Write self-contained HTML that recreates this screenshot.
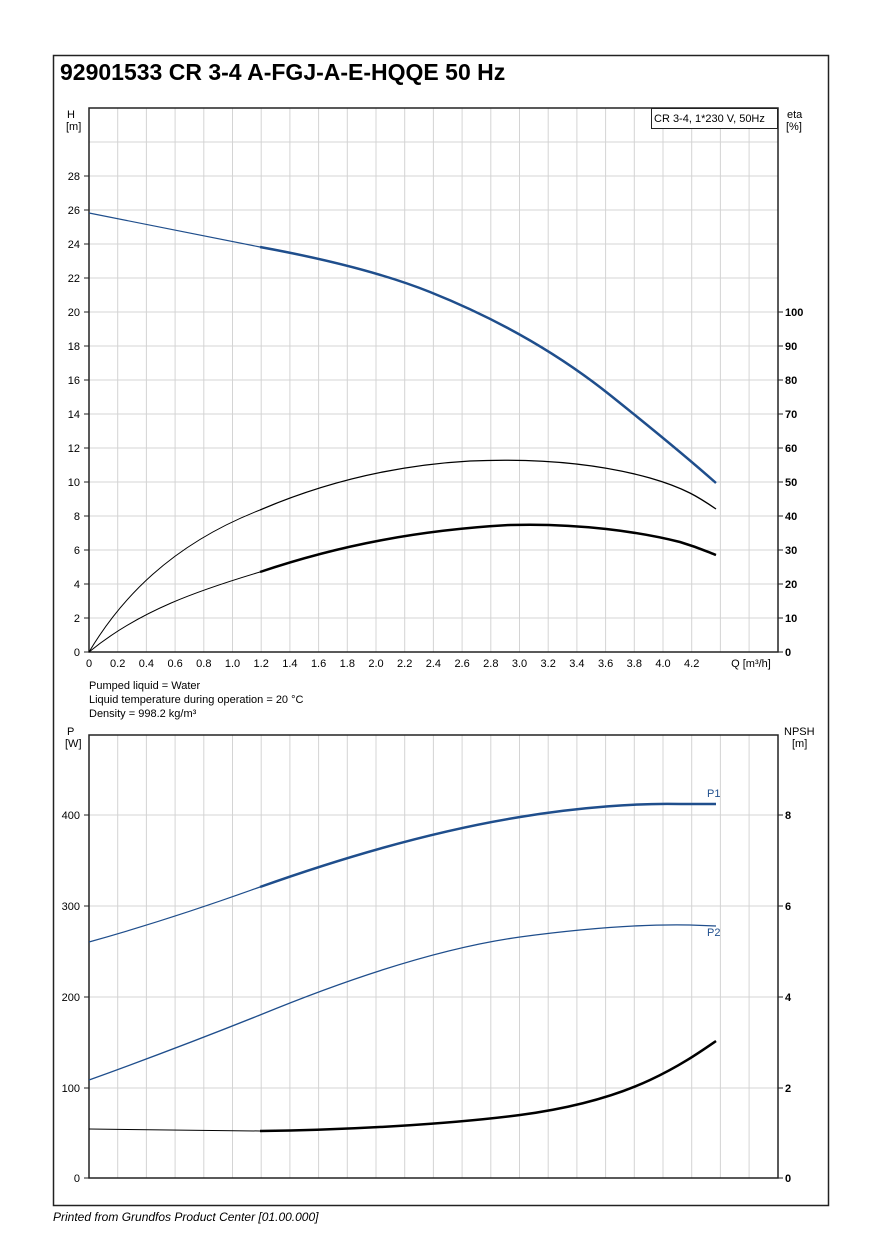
<!DOCTYPE html>
<html><head><meta charset="utf-8"><style>
html,body{margin:0;padding:0;background:#fff;}
svg{display:block;font-family:"Liberation Sans",Arial,sans-serif;}
</style></head><body>
<svg width="889" height="1258" viewBox="0 0 889 1258" xmlns="http://www.w3.org/2000/svg">
<rect x="0" y="0" width="889" height="1258" fill="#fff"/>
<rect x="53.5" y="55.5" width="775" height="1150" fill="none" stroke="#222" stroke-width="1.5"/>
<text x="60" y="80" font-size="23" font-weight="bold" fill="#000">92901533 CR 3-4 A-FGJ-A-E-HQQE 50 Hz</text>

<!-- upper grid -->
<g stroke="#d4d4d4" stroke-width="1">
<line x1="117.7" y1="108" x2="117.7" y2="652"/><line x1="146.4" y1="108" x2="146.4" y2="652"/><line x1="175.1" y1="108" x2="175.1" y2="652"/><line x1="203.8" y1="108" x2="203.8" y2="652"/><line x1="232.5" y1="108" x2="232.5" y2="652"/><line x1="261.2" y1="108" x2="261.2" y2="652"/><line x1="289.9" y1="108" x2="289.9" y2="652"/><line x1="318.6" y1="108" x2="318.6" y2="652"/><line x1="347.3" y1="108" x2="347.3" y2="652"/><line x1="376" y1="108" x2="376" y2="652"/><line x1="404.7" y1="108" x2="404.7" y2="652"/><line x1="433.4" y1="108" x2="433.4" y2="652"/><line x1="462.1" y1="108" x2="462.1" y2="652"/><line x1="490.8" y1="108" x2="490.8" y2="652"/><line x1="519.5" y1="108" x2="519.5" y2="652"/><line x1="548.2" y1="108" x2="548.2" y2="652"/><line x1="576.9" y1="108" x2="576.9" y2="652"/><line x1="605.6" y1="108" x2="605.6" y2="652"/><line x1="634.3" y1="108" x2="634.3" y2="652"/><line x1="663" y1="108" x2="663" y2="652"/><line x1="691.7" y1="108" x2="691.7" y2="652"/><line x1="720.4" y1="108" x2="720.4" y2="652"/><line x1="749.1" y1="108" x2="749.1" y2="652"/>
<line x1="89" y1="618" x2="778" y2="618"/><line x1="89" y1="584" x2="778" y2="584"/><line x1="89" y1="550" x2="778" y2="550"/><line x1="89" y1="516" x2="778" y2="516"/><line x1="89" y1="482" x2="778" y2="482"/><line x1="89" y1="448" x2="778" y2="448"/><line x1="89" y1="414" x2="778" y2="414"/><line x1="89" y1="380" x2="778" y2="380"/><line x1="89" y1="346" x2="778" y2="346"/><line x1="89" y1="312" x2="778" y2="312"/><line x1="89" y1="278" x2="778" y2="278"/><line x1="89" y1="244" x2="778" y2="244"/><line x1="89" y1="210" x2="778" y2="210"/><line x1="89" y1="176" x2="778" y2="176"/><line x1="89" y1="142" x2="778" y2="142"/>
</g>
<rect x="89" y="108" width="689" height="544" fill="none" stroke="#222" stroke-width="1.5"/>
<rect x="651.5" y="108.5" width="126" height="20" fill="#fff" stroke="#222" stroke-width="1"/>
<text x="654" y="122" font-size="11" fill="#000">CR 3-4, 1*230 V, 50Hz</text>

<g font-size="11" fill="#000" text-anchor="end">
<text x="80" y="656">0</text><text x="80" y="622">2</text><text x="80" y="588">4</text><text x="80" y="554">6</text><text x="80" y="520">8</text><text x="80" y="486">10</text><text x="80" y="452">12</text><text x="80" y="418">14</text><text x="80" y="384">16</text><text x="80" y="350">18</text><text x="80" y="316">20</text><text x="80" y="282">22</text><text x="80" y="248">24</text><text x="80" y="214">26</text><text x="80" y="180">28</text>
</g>
<g stroke="#222" stroke-width="1">
<line x1="84" y1="652" x2="89" y2="652"/><line x1="84" y1="618" x2="89" y2="618"/><line x1="84" y1="584" x2="89" y2="584"/><line x1="84" y1="550" x2="89" y2="550"/><line x1="84" y1="516" x2="89" y2="516"/><line x1="84" y1="482" x2="89" y2="482"/><line x1="84" y1="448" x2="89" y2="448"/><line x1="84" y1="414" x2="89" y2="414"/><line x1="84" y1="380" x2="89" y2="380"/><line x1="84" y1="346" x2="89" y2="346"/><line x1="84" y1="312" x2="89" y2="312"/><line x1="84" y1="278" x2="89" y2="278"/><line x1="84" y1="244" x2="89" y2="244"/><line x1="84" y1="210" x2="89" y2="210"/><line x1="84" y1="176" x2="89" y2="176"/>
<line x1="778" y1="652" x2="783" y2="652"/><line x1="778" y1="618" x2="783" y2="618"/><line x1="778" y1="584" x2="783" y2="584"/><line x1="778" y1="550" x2="783" y2="550"/><line x1="778" y1="516" x2="783" y2="516"/><line x1="778" y1="482" x2="783" y2="482"/><line x1="778" y1="448" x2="783" y2="448"/><line x1="778" y1="414" x2="783" y2="414"/><line x1="778" y1="380" x2="783" y2="380"/><line x1="778" y1="346" x2="783" y2="346"/><line x1="778" y1="312" x2="783" y2="312"/>
</g>
<g font-size="11" fill="#000" font-weight="bold">
<text x="785" y="656">0</text><text x="785" y="622">10</text><text x="785" y="588">20</text><text x="785" y="554">30</text><text x="785" y="520">40</text><text x="785" y="486">50</text><text x="785" y="452">60</text><text x="785" y="418">70</text><text x="785" y="384">80</text><text x="785" y="350">90</text><text x="785" y="316">100</text>
</g>
<g font-size="11" fill="#000">
<text x="787" y="118">eta</text><text x="786" y="130">[%]</text>
<text x="67" y="118">H</text><text x="66" y="130">[m]</text>
</g>
<g font-size="11" fill="#000" text-anchor="middle">
<text x="89" y="667">0</text><text x="117.7" y="667">0.2</text><text x="146.4" y="667">0.4</text><text x="175.1" y="667">0.6</text><text x="203.8" y="667">0.8</text><text x="232.5" y="667">1.0</text><text x="261.2" y="667">1.2</text><text x="289.9" y="667">1.4</text><text x="318.6" y="667">1.6</text><text x="347.3" y="667">1.8</text><text x="376" y="667">2.0</text><text x="404.7" y="667">2.2</text><text x="433.4" y="667">2.4</text><text x="462.1" y="667">2.6</text><text x="490.8" y="667">2.8</text><text x="519.5" y="667">3.0</text><text x="548.2" y="667">3.2</text><text x="576.9" y="667">3.4</text><text x="605.6" y="667">3.6</text><text x="634.3" y="667">3.8</text><text x="663" y="667">4.0</text><text x="691.7" y="667">4.2</text>
<text x="751" y="667">Q [m³/h]</text>
</g>

<!-- upper curves -->
<path d="M89,213 L260,247" fill="none" stroke="#1f4e8c" stroke-width="1.2"/>
<path d="M260,247 C320,258 380,272 430,292 C500,320 560,355 610,395 C660,435 690,460 716,483" fill="none" stroke="#1f4e8c" stroke-width="2.5"/>
<path d="M89,652 C120,600 170,545 260,510" fill="none" stroke="#000" stroke-width="1"/>
<path d="M260,510 C330,480 400,465 470,461 C540,458 600,464 650,478 C685,488 700,498 716,509" fill="none" stroke="#000" stroke-width="1.3"/>
<path d="M89,652 C140,610 200,590 260,572" fill="none" stroke="#000" stroke-width="1"/>
<path d="M260,572 C340,545 420,530 510,525 C580,523 640,532 680,542 C700,548 708,552 716,555" fill="none" stroke="#000" stroke-width="2.5"/>

<g font-size="11" fill="#000">
<text x="89" y="689">Pumped liquid = Water</text>
<text x="89" y="703">Liquid temperature during operation = 20 °C</text>
<text x="89" y="717">Density = 998.2 kg/m³</text>
</g>

<!-- lower grid -->
<g stroke="#d4d4d4" stroke-width="1">
<line x1="117.7" y1="735" x2="117.7" y2="1178"/><line x1="146.4" y1="735" x2="146.4" y2="1178"/><line x1="175.1" y1="735" x2="175.1" y2="1178"/><line x1="203.8" y1="735" x2="203.8" y2="1178"/><line x1="232.5" y1="735" x2="232.5" y2="1178"/><line x1="261.2" y1="735" x2="261.2" y2="1178"/><line x1="289.9" y1="735" x2="289.9" y2="1178"/><line x1="318.6" y1="735" x2="318.6" y2="1178"/><line x1="347.3" y1="735" x2="347.3" y2="1178"/><line x1="376" y1="735" x2="376" y2="1178"/><line x1="404.7" y1="735" x2="404.7" y2="1178"/><line x1="433.4" y1="735" x2="433.4" y2="1178"/><line x1="462.1" y1="735" x2="462.1" y2="1178"/><line x1="490.8" y1="735" x2="490.8" y2="1178"/><line x1="519.5" y1="735" x2="519.5" y2="1178"/><line x1="548.2" y1="735" x2="548.2" y2="1178"/><line x1="576.9" y1="735" x2="576.9" y2="1178"/><line x1="605.6" y1="735" x2="605.6" y2="1178"/><line x1="634.3" y1="735" x2="634.3" y2="1178"/><line x1="663" y1="735" x2="663" y2="1178"/><line x1="691.7" y1="735" x2="691.7" y2="1178"/><line x1="720.4" y1="735" x2="720.4" y2="1178"/><line x1="749.1" y1="735" x2="749.1" y2="1178"/>
<line x1="89" y1="1088" x2="778" y2="1088"/><line x1="89" y1="997" x2="778" y2="997"/><line x1="89" y1="906" x2="778" y2="906"/><line x1="89" y1="815" x2="778" y2="815"/>
</g>
<rect x="89" y="735" width="689" height="443" fill="none" stroke="#222" stroke-width="1.5"/>
<g stroke="#222" stroke-width="1">
<line x1="84" y1="1178" x2="89" y2="1178"/><line x1="84" y1="1088" x2="89" y2="1088"/><line x1="84" y1="997" x2="89" y2="997"/><line x1="84" y1="906" x2="89" y2="906"/><line x1="84" y1="815" x2="89" y2="815"/>
<line x1="778" y1="1178" x2="783" y2="1178"/><line x1="778" y1="1088" x2="783" y2="1088"/><line x1="778" y1="997" x2="783" y2="997"/><line x1="778" y1="906" x2="783" y2="906"/><line x1="778" y1="815" x2="783" y2="815"/>
</g>
<g font-size="11" fill="#000" text-anchor="end">
<text x="80" y="1182">0</text><text x="80" y="1092">100</text><text x="80" y="1001">200</text><text x="80" y="910">300</text><text x="80" y="819">400</text>
</g>
<g font-size="11" fill="#000" font-weight="bold">
<text x="785" y="1182">0</text><text x="785" y="1092">2</text><text x="785" y="1001">4</text><text x="785" y="910">6</text><text x="785" y="819">8</text>
</g>
<g font-size="11" fill="#000">
<text x="67" y="735">P</text><text x="65" y="747">[W]</text>
<text x="784" y="735">NPSH</text><text x="792" y="747">[m]</text>
</g>

<path d="M89,942 C150,925 210,905 260,887" fill="none" stroke="#1f4e8c" stroke-width="1.2"/>
<path d="M260,887 C350,855 440,830 520,817 C580,807 640,803 680,804 L716,804" fill="none" stroke="#1f4e8c" stroke-width="2.5"/>
<text x="707" y="797" font-size="11" fill="#1f4e8c">P1</text>
<path d="M89,1080 C150,1058 210,1035 260,1015 C350,978 440,948 520,937 C580,929 640,924 690,925 L716,926" fill="none" stroke="#1f4e8c" stroke-width="1.3"/>
<text x="707" y="936" font-size="11" fill="#1f4e8c">P2</text>
<path d="M89,1129 L260,1131" fill="none" stroke="#000" stroke-width="1"/>
<path d="M260,1131 C350,1130 450,1124 520,1115 C580,1107 620,1094 650,1080 C680,1066 700,1052 716,1041" fill="none" stroke="#000" stroke-width="2.5"/>

<text x="53" y="1221" font-size="12" font-style="italic" fill="#000">Printed from Grundfos Product Center [01.00.000]</text>
</svg>
</body></html>
